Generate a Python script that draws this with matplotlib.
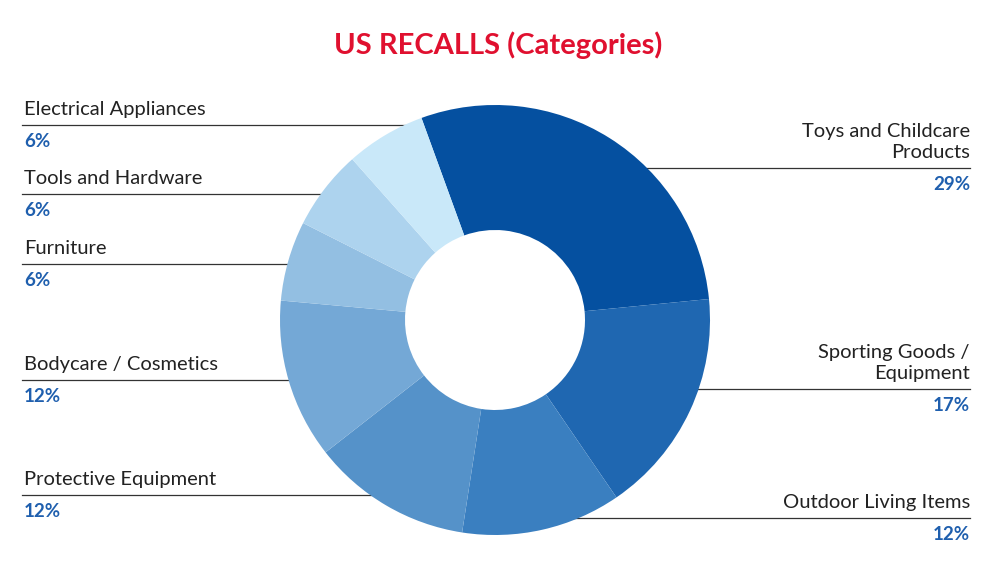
import matplotlib
matplotlib.use("Agg")
import matplotlib.pyplot as plt
import numpy as np

categories = ["Toys and Childcare\nProducts", "Sporting Goods /\nEquipment", "Outdoor Living Items",
              "Protective Equipment", "Bodycare / Cosmetics", "Furniture", "Tools and Hardware",
              "Electrical Appliances"]
values = [29, 17, 12, 12, 12, 6, 6, 6]
colors = ["#0550a0", "#1f67b1", "#3a7fc0", "#5592c9", "#74a8d6", "#93bfe2", "#add3ee", "#c9e8f9"]
# label line y (pixels from top) and side
label_y = [168, 389, 518, 495, 380, 264, 194, 125]
side = ["R", "R", "R", "L", "L", "L", "L", "L"]

plt.rcParams['font.family'] = ['Lato', 'DejaVu Sans']
W, H = 1000, 567
fig = plt.figure(figsize=(10, 5.67), dpi=100)
ax = fig.add_axes([0, 0, 1, 1])

cx, cy, r = 495, H - 320, 215
ax.pie(values, colors=colors, startangle=110, counterclock=False, center=(cx, cy),
       radius=r, wedgeprops=dict(width=125, linewidth=0), frame=True)
ax.set_xlim(0, W); ax.set_ylim(0, H); ax.axis('off')
ax.set_aspect('equal')

for cat, v, ly, s in zip(categories, values, label_y, side):
    y = H - ly
    dy = y - cy
    dx = np.sqrt(max(r**2 - dy**2, 0))
    if s == "L":
        x0, x1 = 22, cx - dx + 10
        ax.plot([x0, x1], [y, y], color="#333333", lw=0.9, zorder=0)
        ax.text(24, y + 7, cat, ha="left", va="bottom", fontsize=14.5, color="#222222", linespacing=1.3)
        ax.text(24, y - 8, f"{v}%", ha="left", va="top", fontsize=13.5, fontweight="bold", color="#1f5fae")
    else:
        x0, x1 = cx + dx - 10, 970
        ax.plot([x0, x1], [y, y], color="#333333", lw=0.9, zorder=0)
        ax.text(970, y + 7, cat, ha="right", va="bottom", fontsize=14.5, color="#222222", linespacing=1.3,
                multialignment="right")
        ax.text(970, y - 8, f"{v}%", ha="right", va="top", fontsize=13.5, fontweight="bold", color="#1f5fae")

ax.text(W / 2 - 2, H - 45, "US RECALLS (Categories)", ha="center", va="center", fontsize=21,
        fontweight="bold", color="#e0102f")
fig.savefig("out.png", dpi=100)
